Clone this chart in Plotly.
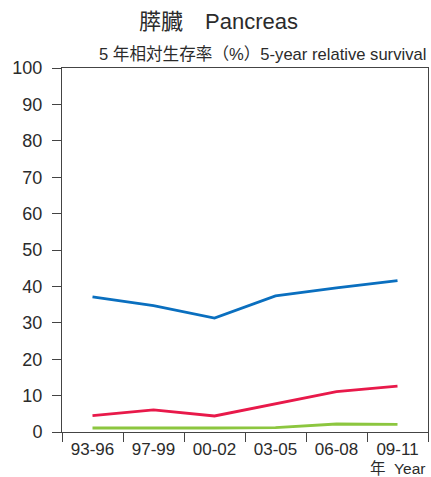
import plotly.graph_objects as go

periods = ["93-96", "97-99", "00-02", "03-05", "06-08", "09-11"]
localized = [37.1, 34.7, 31.3, 37.4, 39.6, 41.6]
regional = [4.5, 6.1, 4.4, 7.8, 11.1, 12.6]
distant = [1.1, 1.0, 1.1, 1.2, 2.2, 2.1]

series = [
    (localized, "#0a6fbf"),
    (regional, "#e8194a"),
    (distant, "#8cc63f"),
]

font_family = "Liberation Sans, Arial, Noto Sans CJK JP, sans-serif"
text_color = "#2b2b2b"
axis_color = "#444444"

fig = go.Figure()
for values, color in series:
    fig.add_trace(go.Scatter(
        x=periods, y=values, mode="lines",
        line=dict(color=color, width=2.8),
        showlegend=False, hoverinfo="skip",
    ))

fig.update_layout(
    width=431, height=477,
    margin=dict(l=62, r=3, t=68, b=45),
    paper_bgcolor="white", plot_bgcolor="white",
    font=dict(family=font_family, color=text_color),
    xaxis=dict(
        type="category", range=[-0.5, 5.5],
        tickson="boundaries", ticks="outside", ticklen=9,
        tickcolor=axis_color, tickwidth=1,
        showline=True, linecolor=axis_color, linewidth=1, mirror=True,
        showgrid=False, zeroline=False,
        tickfont=dict(size=17, color=text_color),
        ticklabelstandoff=2,
    ),
    yaxis=dict(
        range=[0, 100], tickvals=list(range(0, 101, 10)),
        ticks="outside", ticklen=9, tickcolor=axis_color, tickwidth=1,
        showline=True, linecolor=axis_color, linewidth=1, mirror=True,
        showgrid=False, zeroline=False,
        tickfont=dict(size=18, color=text_color),
        ticklabelstandoff=6,
    ),
    annotations=[
        dict(text="膵臓　Pancreas", xref="paper", yref="paper",
             x=0.427, y=1, yshift=47, xanchor="center", yanchor="middle",
             showarrow=False, font=dict(size=22, color=text_color)),
        dict(text="5 年相対生存率（%）5-year relative survival",
             xref="paper", yref="paper", x=1, y=1, yshift=14,
             xanchor="right", yanchor="middle", showarrow=False,
             font=dict(size=16.6, color=text_color)),
        dict(text="年  Year", xref="paper", yref="paper", x=1, y=0,
             xshift=-1, yshift=-36, xanchor="right", yanchor="middle",
             showarrow=False, font=dict(size=15.5, color=text_color)),
    ],
)

fig.write_html("out.html")
